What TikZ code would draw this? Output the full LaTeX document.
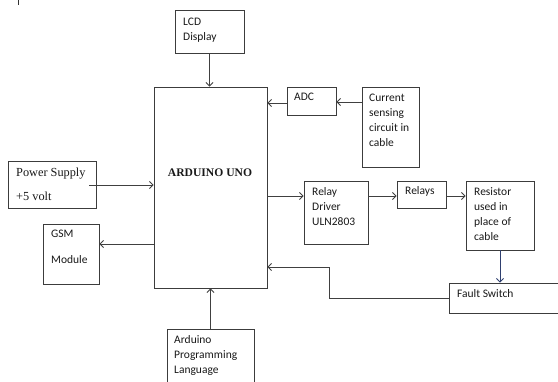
\documentclass[tikz,border=0pt]{standalone}
\usepackage{fontspec}
\setmainfont{Carlito}
\newfontfamily\tnr{Liberation Serif}
\usetikzlibrary{arrows.meta}
\definecolor{boxc}{HTML}{3C3C3C}
\definecolor{linec}{HTML}{404040}
\definecolor{navy}{HTML}{2F3F6F}
\newcommand{\mltxt}[1]{\parbox[t]{90pt}{\fontsize{11.5}{15.2}\selectfont\raggedright #1}}
\tikzset{
  blk/.style={draw=boxc, line width=0.9pt, rectangle, inner sep=0pt},
  txt/.style={anchor=base west, inner sep=0pt, font=\fontsize{11.5}{15.2}\selectfont, text=black!90},
  serif/.style={anchor=base west, inner sep=0pt, font=\tnr\fontsize{12.3}{15}\selectfont, text=black!90},
  arr/.style={draw=linec, line width=0.8pt, -{Straight Barb[length=3.5pt,width=7pt]}}
}
\begin{document}
\begin{tikzpicture}[x=1pt,y=-1pt]
\clip (0,0) rectangle (558,381);
\fill[white] (0,0) rectangle (558,381);
\draw[black!80, line width=0.8pt] (18,0) -- (18,5);
% boxes
\node[blk, minimum width=69pt, minimum height=43pt] (lcd) at (209.5,31.5) {};
\node[blk, minimum width=113pt, minimum height=201pt] (ard) at (210.5,187.5) {};
\node[blk, minimum width=49pt, minimum height=28pt] (adc) at (311.5,101) {};
\node[blk, minimum width=57pt, minimum height=80pt] (cs) at (390.5,127) {};
\node[blk, minimum width=88pt, minimum height=47pt] (ps) at (52,184.5) {};
\node[blk, minimum width=56pt, minimum height=60pt] (gsm) at (71,254) {};
\node[blk, minimum width=87pt, minimum height=71pt] (apl) at (210.5,364.5) {};
\node[blk, minimum width=64pt, minimum height=63pt] (rd) at (336,212.5) {};
\node[blk, minimum width=49pt, minimum height=27pt] (rl) at (421.5,194.5) {};
\node[blk, minimum width=68pt, minimum height=69pt] (res) at (500,215.5) {};
\node[blk, minimum width=131pt, minimum height=30pt] (fs) at (514.5,298) {};
% texts
\node[txt] (lcdT) at (183,25) {\mltxt{LCD\\Display}};
\node[txt] (adcT) at (294,100) {ADC};
\node[txt] (csT) at (369,101) {\mltxt{Current\\sensing\\circuit in\\cable}};
\node[txt] (rdT) at (312,195) {\mltxt{Relay\\Driver\\ULN2803}};
\node[txt] (rlT) at (405,194.7) {Relays};
\node[txt] (resT) at (474,195) {\mltxt{Resistor\\used in\\place of\\cable}};
\node[txt] (fsT) at (457,297) {Fault Switch};
\node[txt] (gsmT) at (51,237.7) {GSM};
\node[txt] (gsmT2) at (51,263) {Module};
\node[txt] (aplT) at (174,343.3) {\mltxt{Arduino\\Programming\\Language}};
\node[serif] (psT) at (16,176) {Power Supply};
\node[serif] (psT2) at (16,200.7) {+5 volt};
\node[anchor=base, inner sep=0pt, font=\tnr\bfseries\fontsize{11.6}{14}\selectfont, text=black!90] (ardT) at (210,176.7) {ARDUINO UNO};
% connectors
\coordinate (psout) at (89,185);
\coordinate (turn) at (329,267);
\draw[arr] (lcd.south) -- (lcd.south |- ard.north);
\draw[arr] (adc.west |- 0,103) -- (ard.east |- 0,103);
\draw[arr] (cs.west |- 0,102) -- (adc.east |- 0,102);
\draw[arr] (psout) -- (ard.west |- psout);
\draw[arr] (ard.west |- 0,244) -- (gsm.east |- 0,244);
\draw[arr] (apl.north -| ard.south) -- (ard.south);
\draw[arr] (ard.east |- 0,196) -- (rd.west |- 0,196);
\draw[arr] (rd.east |- 0,196) -- (rl.west |- 0,196);
\draw[arr] (rl.east |- 0,196) -- (res.west |- 0,196);
\draw[arr, draw=navy] (res.south) -- (res.south |- fs.north);
\draw[arr] (fs.west) -| (turn) -- (turn -| ard.east);
\end{tikzpicture}
\end{document}
